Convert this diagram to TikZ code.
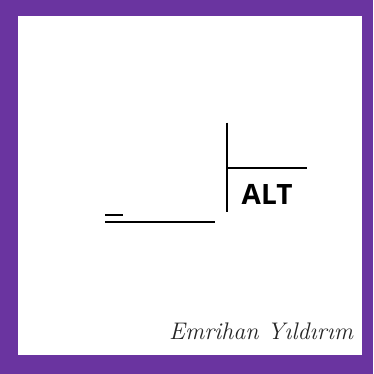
\documentclass[tikz,border=0pt]{standalone}
\usepackage{fontspec}
\newfontfamily\altfont{Open Sans}
\definecolor{framepurple}{RGB}{106,52,160}
\tikzset{
  stroke/.style={line width=2pt, black},
}
\begin{document}
\begin{tikzpicture}[x=1pt,y=-1pt]
\useasboundingbox (0,0) rectangle (373,374);
\fill[framepurple] (0,0) rectangle (373,374);
\fill[white] (18,16) rectangle (362,355);
\coordinate (vtop) at (226.7,122.7);
\coordinate (vbot) at (226.7,211.7);
\coordinate (hleft) at (226.7,168.3);
\coordinate (hright) at (307,168.3);
\coordinate (bleft) at (105,221.7);
\coordinate (bright) at (215,221.7);
\coordinate (dleft) at (105,215);
\coordinate (dright) at (123,215);
\draw[stroke] (vtop) -- (vbot);
\draw[stroke] (hleft) -- (hright);
\draw[stroke] (bleft) -- (bright);
\draw[stroke] (dleft) -- (dright);
\node[anchor=base west, inner sep=0pt, font=\altfont\bfseries\fontsize{28}{30}\selectfont] (alt) at (241.5,204) {ALT};
\node[anchor=base west, inner sep=0pt, text=black!85, font=\itshape\fontsize{24}{28}\selectfont] (sig) at (169,339) {Emrihan Yıldırım};
\end{tikzpicture}
\end{document}
